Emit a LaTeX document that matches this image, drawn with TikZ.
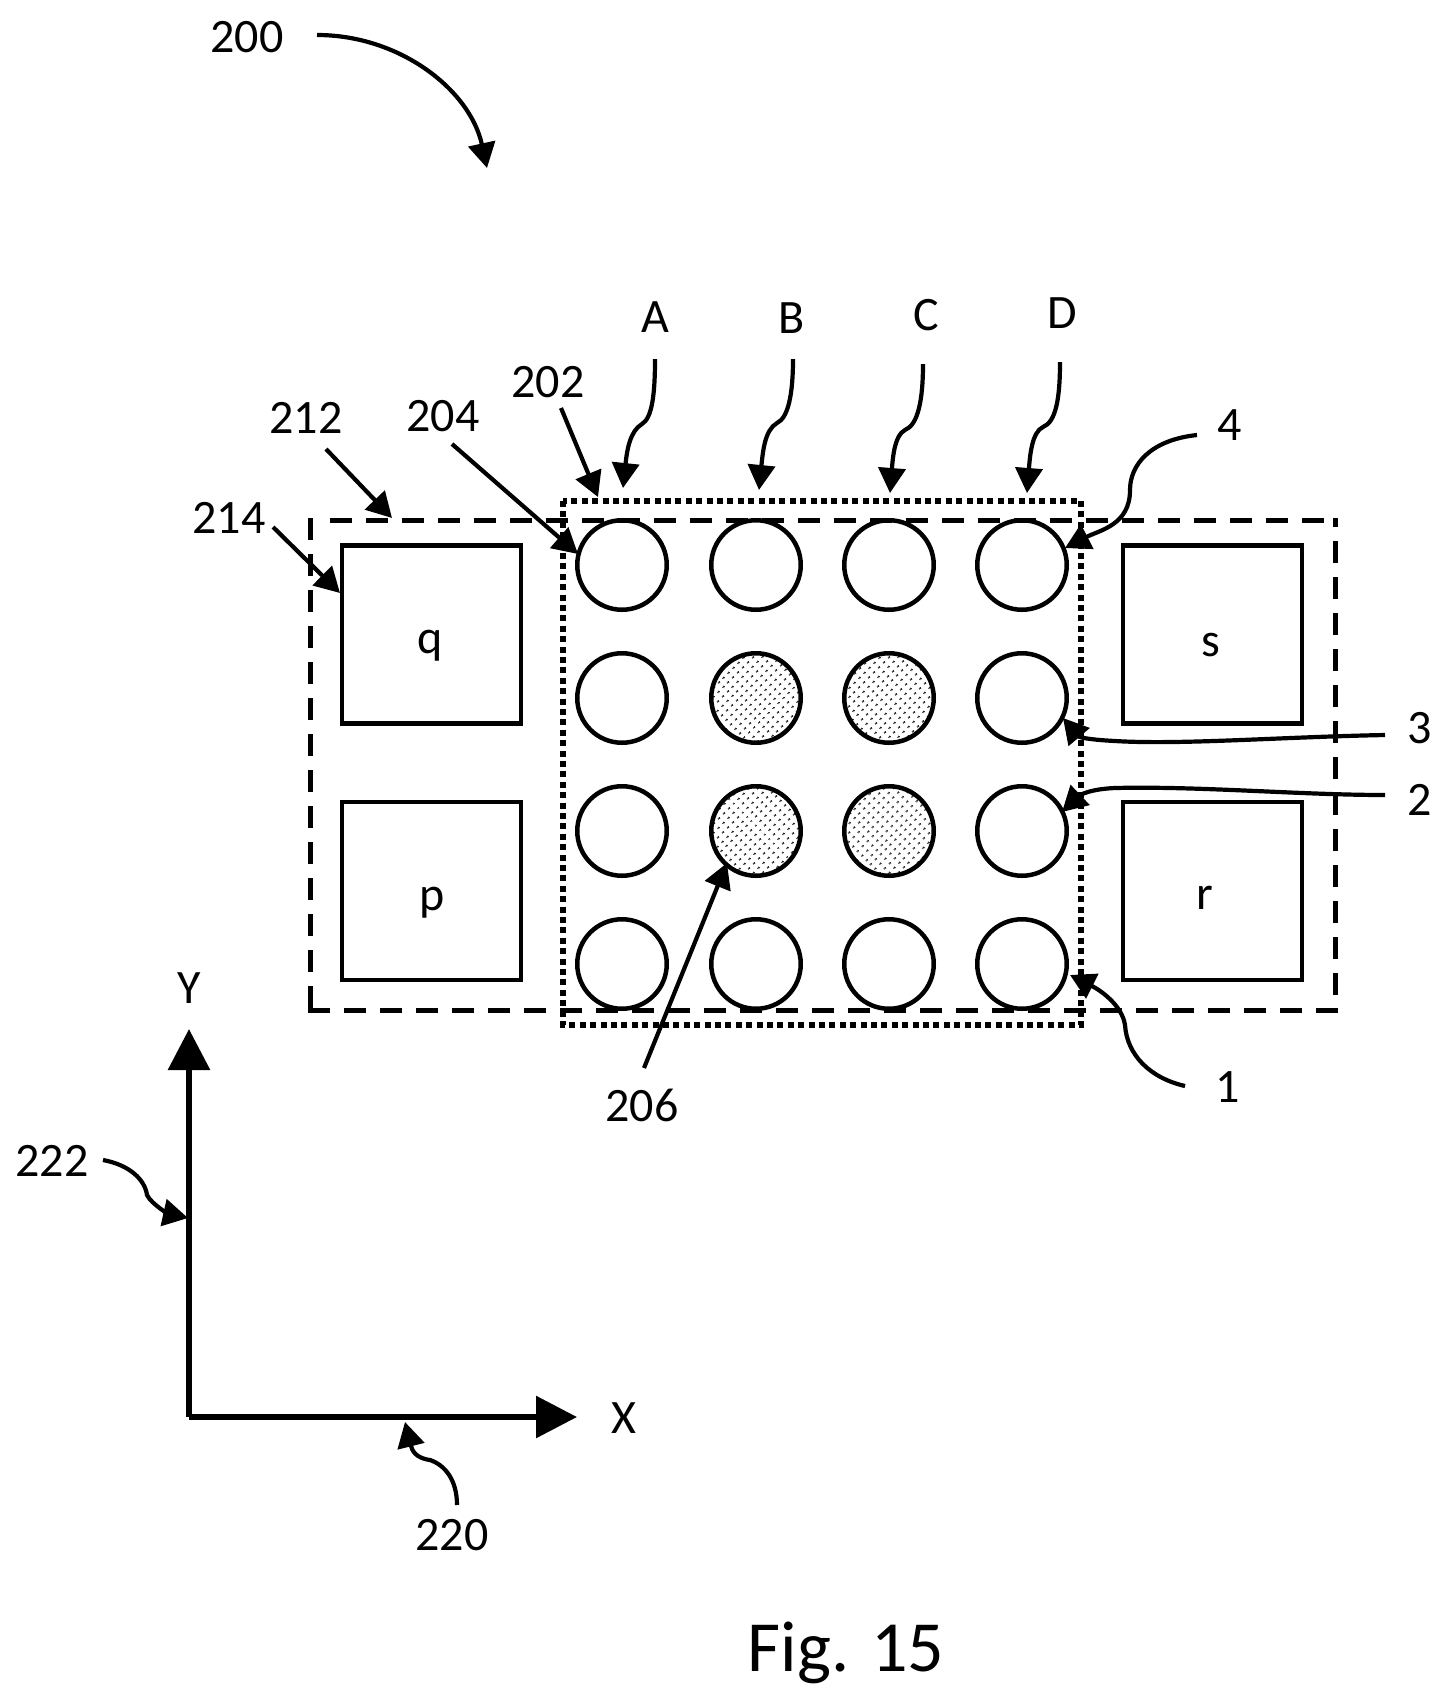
\documentclass[tikz,border=0pt]{standalone}
\usepackage{fontspec}
\setmainfont{Carlito}
\usetikzlibrary{arrows.meta,patterns.meta}
\tikzset{
  lbl/.style={anchor=base,inner sep=0pt,font=\fontsize{48}{48}\selectfont},
  pad/.style={draw=black,line width=4.5pt,rectangle,minimum width=179pt,minimum height=178pt,inner sep=0pt},
  well/.style={draw=black,line width=4.5pt,circle,minimum size=89.5pt,inner sep=0pt},
  wellfilled/.style={well,pattern={Dots[radius=1.35pt,distance=6.4pt,angle=45]},pattern color=black},
  outerbox/.style={draw=black,line width=5pt,dash pattern=on 22pt off 14pt},
  innerbox/.style={draw=black,line width=6pt,dash pattern=on 6pt off 4.4pt},
  lead/.style={draw=black,line width=4.2pt,-{Triangle[width=27pt,length=25pt]}},
  axis/.style={draw=black,line width=6pt,-{Triangle[width=41pt,length=41pt]}},
}
\begin{document}
\begin{tikzpicture}[x=1pt,y=-1pt]
\useasboundingbox (0,0) rectangle (1450,1698);
% boxes
\coordinate (otl) at (330,520); \coordinate (otr) at (1338,520);
\coordinate (olt) at (310,518); \coordinate (olb) at (310,1012);
\coordinate (obr) at (1338,1010); \coordinate (obl) at (308,1010);
\coordinate (orb) at (1335,995); \coordinate (ort) at (1335,518);
\coordinate (ia) at (563,501); \coordinate (ib) at (1081,1025);
\draw[outerbox] (otl) -- (otr);
\draw[outerbox] (olt) -- (olb);
\draw[outerbox] (obr) -- (obl);
\draw[outerbox] (orb) -- (ort);
\draw[innerbox] (ia) rectangle (ib);
% pads
\node[pad] (padq) at (431.5,634.5) {};
\node[pad] (padp) at (431.5,891) {};
\node[pad] (pads) at (1212.5,634.5) {};
\node[pad] (padr) at (1212.5,891) {};
\node[lbl] (tq) at (430,653) {q};
\node[lbl] (tp) at (432,910) {p};
\node[lbl] (ts) at (1211,656) {s};
\node[lbl] (tr) at (1205,909) {r};
% wells
\foreach \n/\x in {a/622,b/756,c/889,d/1022}{
  \foreach \m/\y in {1/565,4/964}{ \node[well] (w\n\m) at (\x,\y) {}; }
}
\node[well] (wa2) at (622,698) {};
\node[well] (wa3) at (622,831) {};
\node[well] (wd2) at (1022,698) {};
\node[well] (wd3) at (1022,831) {};
\node[wellfilled] (wb2) at (756,698) {};
\node[wellfilled] (wc2) at (889,698) {};
\node[wellfilled] (wb3) at (756,831) {};
\node[wellfilled] (wc3) at (889,831) {};
% labels
\node[lbl] (l200) at (247,52) {200};
\node[lbl] (lA) at (655,332) {A};
\node[lbl] (lB) at (792,333) {B};
\node[lbl] (lC) at (926,330) {C};
\node[lbl] (lD) at (1062,328) {D};
\node[lbl] (l202) at (548,397) {202};
\node[lbl] (l204) at (443,431) {204};
\node[lbl] (l212) at (306,433) {212};
\node[lbl] (l214) at (229,533) {214};
\node[lbl] (l4) at (1230,440) {4};
\node[lbl] (l3) at (1420,743) {3};
\node[lbl] (l2) at (1420,815) {2};
\node[lbl] (l1) at (1228,1102) {1};
\node[lbl] (l206) at (642,1121) {206};
\node[lbl] (l222) at (52,1176) {222};
\node[lbl] (l220) at (452,1550) {220};
\node[lbl] (lY) at (189,1003) {Y};
\node[lbl] (lX) at (624,1433) {X};
\node[anchor=base,inner sep=0pt,font=\fontsize{72}{72}\selectfont] (fig) at (846,1671) {Fig. 15};
% axes
\coordinate (org) at (189,1417);
\coordinate (ytip) at (189,1029);
\coordinate (xtip) at (577,1417);
\draw[axis] (org) -- (ytip);
\draw[axis] (org) -- (xtip);
% leader ends
\coordinate (s200) at (317,35);  \coordinate (t200) at (487,168);
\coordinate (sA) at (655,359);   \coordinate (tA) at (623,488);
\coordinate (sB) at (793,359);   \coordinate (tB) at (759,490);
\coordinate (sC) at (923,364);   \coordinate (tC) at (890,493);
\coordinate (sD) at (1060,362);  \coordinate (tD) at (1027,493);
\coordinate (s4) at (1197,435);  \coordinate (t4) at (1065,548);
\coordinate (s3) at (1385,735);  \coordinate (t3) at (1063,718);
\coordinate (s2) at (1385,795);  \coordinate (t2) at (1062,812);
\coordinate (s1) at (1185,1086); \coordinate (t1) at (1070,975);
\coordinate (s206) at (644,1068);\coordinate (t206) at (727,863);
\coordinate (s204) at (452,444); \coordinate (t204) at (578,554);
\coordinate (s202) at (561,408); \coordinate (t202) at (598,497);
\coordinate (s212) at (326,449); \coordinate (t212) at (392,518);
\coordinate (s214) at (273,527); \coordinate (t214) at (340,593);
\coordinate (s222) at (103,1160);\coordinate (t222) at (188,1218);
\coordinate (s220) at (457,1505);\coordinate (t220) at (405,1422);
% leaders
\draw[lead] (s200) .. controls (400,35) and (470,90) .. (t200);
\draw[lead] (sA) .. controls (655,395) and (652,418) .. (642,424) .. controls (630,431) and (627,450) .. (tA);
\draw[lead] (sB) .. controls (793,395) and (788,418) .. (777,423) .. controls (765,430) and (763,450) .. (tB);
\draw[lead] (sC) .. controls (923,400) and (918,425) .. (905,430) .. controls (895,435) and (893,455) .. (tC);
\draw[lead] (sD) .. controls (1060,398) and (1056,422) .. (1043,427) .. controls (1032,432) and (1030,455) .. (tD);
\draw[lead] (s4) .. controls (1150,440) and (1130,465) .. (1130,490) .. controls (1130,525) and (1100,530) .. (t4);
\draw[lead] (s3) .. controls (1280,737) and (1180,745) .. (1115,741) .. controls (1095,740) and (1080,738) .. (t3);
\draw[lead] (s2) .. controls (1300,795) and (1200,786) .. (1115,788) .. controls (1090,789) and (1080,795) .. (t2);
\draw[lead] (s1) .. controls (1150,1078) and (1127,1055) .. (1125,1025) .. controls (1122,1005) and (1100,990) .. (t1);
\draw[lead] (s206) -- (t206);
\draw[lead] (s204) -- (t204);
\draw[lead] (s202) -- (t202);
\draw[lead] (s212) -- (t212);
\draw[lead] (s214) -- (t214);
\draw[lead] (s222) .. controls (130,1165) and (145,1180) .. (147,1195) .. controls (152,1205) and (170,1214) .. (t222);
\draw[lead] (s220) .. controls (457,1480) and (445,1465) .. (430,1460) .. controls (415,1458) and (412,1450) .. (t220);
\end{tikzpicture}
\end{document}
